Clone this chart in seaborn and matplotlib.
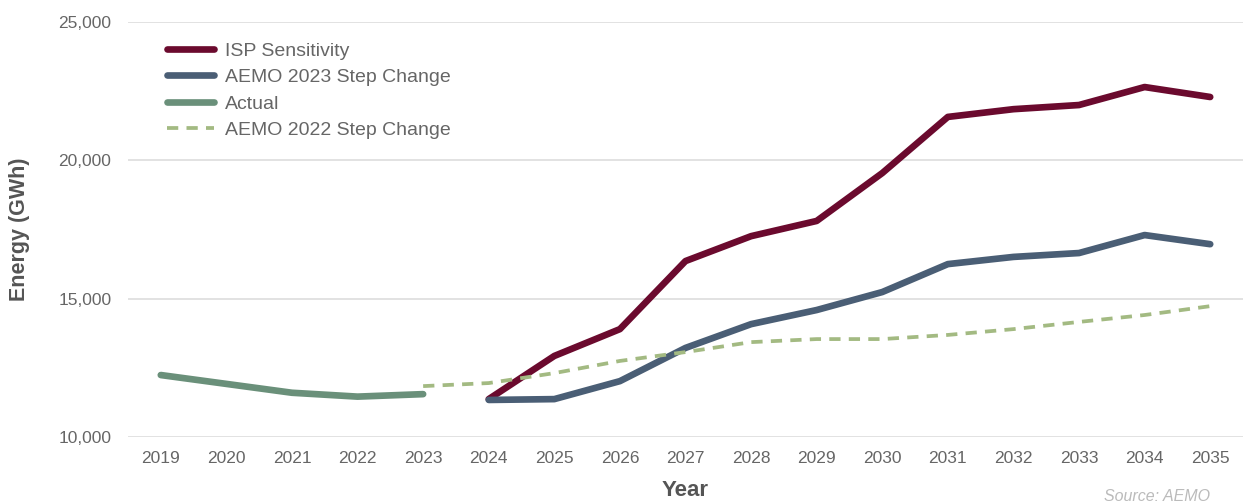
import matplotlib
matplotlib.use("Agg")
import matplotlib.pyplot as plt
import matplotlib.ticker as mticker
import numpy as np
import pandas as pd
import seaborn as sns

years_actual = [2019, 2020, 2021, 2022, 2023]
actual = [12240, 11920, 11600, 11460, 11550]

years_2022 = list(range(2023, 2036))
aemo_2022 = [11840, 11950, 12310, 12750, 13070, 13430, 13540, 13540,
             13690, 13900, 14160, 14410, 14730]

years_fc = list(range(2024, 2036))
isp_sens = [11370, 12930, 13900, 16360, 17260, 17810, 19540, 21570,
            21850, 22000, 22650, 22290]
aemo_2023 = [11340, 11370, 12020, 13220, 14080, 14590, 15240, 16250,
             16510, 16650, 17300, 16970]

sns.set_style("white")
plt.rcParams['font.family'] = ['Liberation Sans', 'DejaVu Sans']

grey = "#666666"
fig = plt.figure(figsize=(12.45, 5.04), dpi=100)
ax = fig.add_axes([0.1028, 0.1329, 0.8956, 0.8234])

lw = 4.8
sns.lineplot(x=years_fc, y=isp_sens, ax=ax, color="#6B0A2E", lw=lw,
             solid_capstyle="round", label="ISP Sensitivity")
sns.lineplot(x=years_fc, y=aemo_2023, ax=ax, color="#4A5E75", lw=lw,
             solid_capstyle="round", label="AEMO 2023 Step Change")
sns.lineplot(x=years_actual, y=actual, ax=ax, color="#6A907A", lw=lw,
             solid_capstyle="round", label="Actual")
sns.lineplot(x=years_2022, y=aemo_2022, ax=ax, color="#A3BA82", lw=2.7,
             linestyle=(0, (3, 2.2)), label="AEMO 2022 Step Change")

ax.set_xlim(2018.5, 2035.5)
ax.set_ylim(10000, 25000)
ax.set_xticks(range(2019, 2036))
ax.set_yticks([10000, 15000, 20000, 25000])
ax.yaxis.set_major_formatter(mticker.FuncFormatter(lambda v, p: f"{int(v):,}"))
ax.grid(axis="y", color="#dddddd", lw=1.2)
ax.set_axisbelow(True)
for s in ax.spines.values():
    s.set_visible(False)
ax.tick_params(axis="both", length=0, labelsize=12.5, labelcolor=grey)
ax.tick_params(axis="x", pad=10)
ax.tick_params(axis="y", pad=12)

ax.set_xlabel("Year", fontsize=16, fontweight="bold", color="#555555", labelpad=10)
ax.set_ylabel("Energy (GWh)", fontsize=15.5, fontweight="bold", color="#555555", labelpad=20)

leg = ax.legend(loc="upper left", bbox_to_anchor=(0.028, 0.97), frameon=False,
                fontsize=14, handlelength=2.4, labelspacing=0.45,
                handletextpad=0.6, borderaxespad=0)
for t in leg.get_texts():
    t.set_color(grey)

fig.text(0.972, 0.014, "Source: AEMO", ha="right", va="center", fontsize=11.5,
         style="italic", color="#bbbbbb")

fig.savefig("out.png", dpi=100)
